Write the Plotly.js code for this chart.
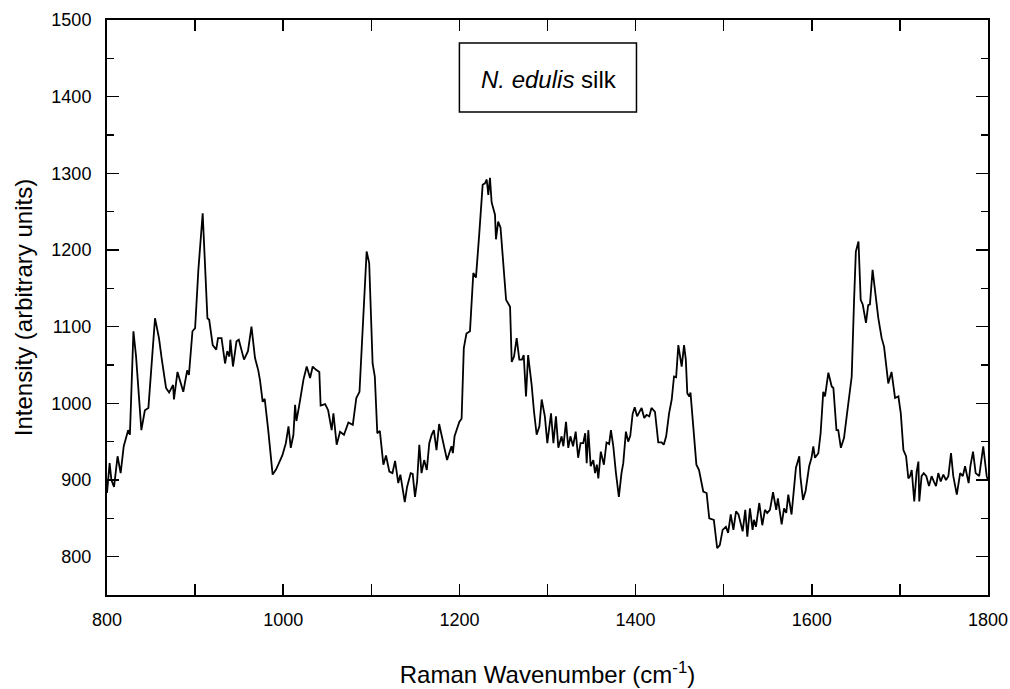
<!DOCTYPE html>
<html>
<head>
<meta charset="utf-8">
<script src="https://cdn.plot.ly/plotly-3.0.1.min.js"></script>
<style>html,body{margin:0;padding:0;background:#fff;}#chart{width:1010px;height:689px;}</style>
</head>
<body>
<div id="chart"></div>
<script>
const wavenumber = [
800,803,805,808,812,815.5,819,824,826,830,833,839,843,847,854.5,859,862,867,870.5,875,876,880,886.6,891,893,897,900,903.7,908.6,914,916,920,924,926,930,934,936.5,939,940,943,947,949.6,955.5,960,964,968,971.7,973.7,976.7,979,983,988,992,996,999,1003,1006,1008.6,1011.6,1013.5,1015,1018,1023,1026.7,1030.5,1033.5,1037,1041,1042.5,1047.6,1051,1055,1057,1060.7,1064.5,1069,1074,1079,1083,1086.6,1091,1094.7,1097.6,1101.5,1104,1106.8,1109.7,1113.7,1116.7,1120.5,1124,1127,1130.6,1133,1138,1140.6,1144.7,1147,1149.6,1152,1154.5,1157,1160,1163,1165.8,1168.5,1171,1174,1177,1181,1186,1191,1192.6,1194.5,1200,1202.5,1205,1208,1212,1215.8,1218.8,1222.6,1226.4,1229,1231,1232.8,1234.7,1236.6,1240.4,1241.5,1244,1246.7,1253,1257.5,1259.4,1262,1265,1268,1271,1273,1275.6,1278,1282,1284.7,1287.7,1290.8,1293.4,1297,1299.8,1304,1306.7,1309.6,1312.3,1316,1318,1321,1323.6,1326,1329,1332,1334.8,1337.5,1340.5,1342.8,1344.5,1346.3,1349,1352,1354,1356,1357.7,1360.5,1364,1367,1370,1372,1374.6,1377.7,1381,1384,1386,1389,1391.6,1394,1396.6,1399,1401.7,1406.8,1409.8,1412.5,1415.5,1418,1422,1425.7,1429.5,1432,1434.7,1438,1441,1443.6,1446,1448.5,1452.3,1455,1457,1458.7,1461,1462.3,1469,1472,1476.8,1480.6,1483.6,1488.8,1492.6,1495.6,1498.8,1502.5,1505,1508,1511,1514,1516.8,1521.5,1524.5,1526.8,1529.8,1532.8,1534.3,1536.6,1540.4,1543.8,1546.8,1549.4,1552.5,1556,1559.6,1561.5,1565.8,1568.5,1571,1573.3,1577,1582,1585.8,1587,1590,1593,1597,1599.7,1601.7,1603.6,1607.4,1610,1613,1615,1618.8,1622.6,1624.5,1628,1630,1633,1636.6,1639.6,1643.4,1645.3,1648,1650,1653,1655.5,1657.8,1661.5,1664,1666,1669,1671.5,1675.5,1679.3,1682,1684,1686.8,1690.5,1694.5,1698.3,1701,1704,1707,1709.6,1711.5,1713.4,1716.3,1719,1721,1722,1724.6,1727,1730,1733,1736,1738.6,1741,1743.6,1746.3,1749.3,1752.3,1755,1758,1760.6,1764.6,1768.4,1771.4,1774,1778,1780,1783,1786,1790,1794.6,1798.5,1800
];
const intensity = [
883,922,900,891,931,909,944,965,959,1094,1061,965,991,994,1111,1085,1059,1020,1014,1024,1005,1041,1015,1043,1037,1094,1098,1174,1248,1111,1109,1076,1070,1085,1085,1052,1068,1061,1083,1048,1081,1083,1057,1068,1100,1059,1043,1030,1002,1006,965,907,914,924,932,948,970,942,959,998,977,996,1031,1048,1033,1048,1044,1041,997,999,991,965,987,946,963,959,975,972,1007,1015,1126,1198,1183,1052,1035,961,964,920,932,911,909,925,896,907,871,891,909,908,878,898,946,909,926,913,948,959,965,939,973,950,926,944,935,957,976,980,1072,1091,1094,1170,1164,1222,1285,1287,1292,1272,1294,1262,1246,1214,1237,1229,1135,1126,1054,1061,1085,1057,1057,1063,1009,1063,1024,989,959,970,1005,983,948,987,948,983,942,957,944,976,942,957,944,963,929,948,948,961,922,965,918,926,909,920,902,937,920,949,947,965,945,909,878,909,922,963,950,958,986,995,983,994,981,985,983,994,989,949,949,946,957,987,1005,1035,1034,1076,1048,1076,1057,1013,1009,1014,920,913,885,883,850,848,811,815,835,839,831,855,835,859,855,833,861,826,863,835,848,839,870,841,861,857,861,884,861,876,842,863,857,881,855,916,931,905,874,886,918,929,944,929,935,961,1015,1009,1040,1022,1020,965,965,942,955,983,1022,1035,1135,1198,1211,1135,1129,1105,1128,1129,1174,1150,1111,1085,1074,1054,1026,1041,1007,1009,987,939,931,902,905,913,872,911,924,872,905,909,905,892,905,898,892,909,898,907,900,905,935,905,881,909,905,918,896,918,937,909,905,944,905,900
];
const xTickVals = [800, 1000, 1200, 1400, 1600, 1800];
const xTickText = ['800', '1000', '1200', '1400', '1600', '1800'];
const xTitle = 'Raman Wavenumber (cm<sup>-1</sup>)';
const yTitle = 'Intensity (arbitrary units)';
const labelText = '<i>N. edulis</i> silk';

const fontFam = '"Liberation Sans Narrow", "Arial Narrow", "Liberation Sans", Arial, sans-serif';

const trace = {
  x: wavenumber, y: intensity, type: 'scatter', mode: 'lines',
  line: {color: '#000', width: 1.8}, hoverinfo: 'skip'
};

const axisCommon = {
  showgrid: false, zeroline: false, showline: true, linecolor: '#000', linewidth: 2,
  ticks: 'inside', tickcolor: '#000', tickwidth: 1.5, mirror: 'allticks',
  ticklabeloverflow: 'allow',
  tickfont: {family: fontFam, size: 18, color: '#000'}
};

const layout = {
  width: 1010, height: 689,
  margin: {l: 107, r: 22, t: 20, b: 94},
  paper_bgcolor: '#fff', plot_bgcolor: '#fff',
  showlegend: false,
  font: {family: fontFam, color: '#000'},
  xaxis: Object.assign({}, axisCommon, {
    range: [800, 1800], tickmode: 'array', tickvals: xTickVals, ticktext: xTickText, ticklen: 11,
    minor: {tickmode: 'linear', tick0: 800, dtick: 100, ticklen: 11, tickwidth: 1.5, tickcolor: '#000', ticks: 'inside'},
    ticklabelstandoff: 7,
    title: {text: xTitle, font: {family: fontFam, size: 24, color: '#000'}, standoff: 38}
  }),
  yaxis: Object.assign({}, axisCommon, {
    range: [750, 1500], tick0: 800, dtick: 100, ticklen: 12,
    minor: {dtick: 50, ticklen: 7, tickwidth: 1.5, tickcolor: '#000', ticks: 'inside'},
    ticklabelstandoff: 10,
    title: {text: yTitle, font: {family: fontFam, size: 24, color: '#000'}, standoff: 12}
  }),
  shapes: [{
    type: 'rect', xref: 'x', yref: 'y', x0: 1200, x1: 1401, y0: 1380, y1: 1470,
    line: {color: '#000', width: 1.5}, fillcolor: 'rgba(0,0,0,0)'
  }],
  annotations: [{
    xref: 'x', yref: 'y', x: 1302, y: 1422, text: labelText, showarrow: false,
    font: {family: fontFam, size: 24, color: '#000'}, xanchor: 'center', yanchor: 'middle'
  }]
};

Plotly.newPlot('chart', [trace], layout, {displayModeBar: false, staticPlot: true});
</script>
</body>
</html>
